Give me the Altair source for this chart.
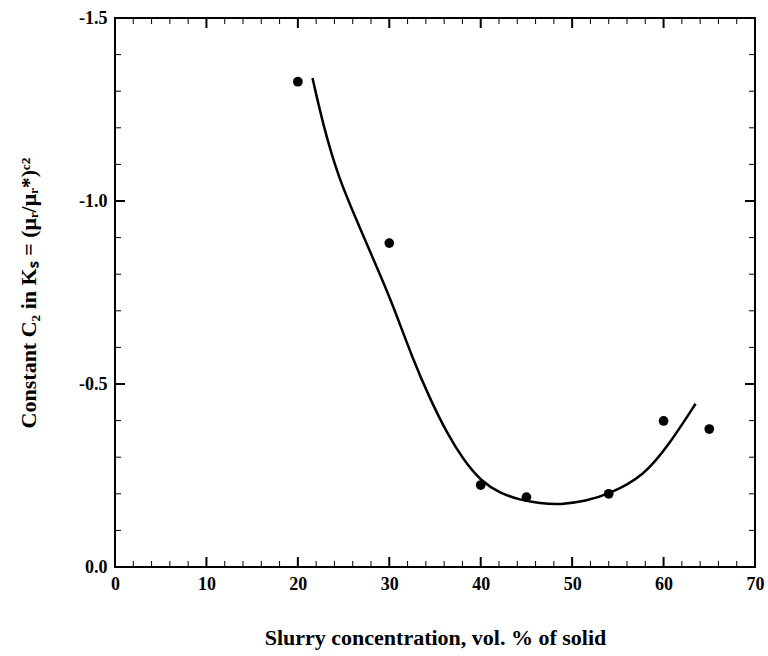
import altair as alt
import pandas as pd

# measured points
pt_x = [20, 30, 40, 45, 54, 60, 65]
pt_y = [-1.326, -0.885, -0.224, -0.191, -0.200, -0.399, -0.377]

# fitted curve
fit_x = [21.6, 22.8, 24.4, 26.4, 28.6, 30.1, 32.6, 34.5, 36.3, 38.1, 40.1, 42.1, 44.3, 46.5, 48.7, 51.5, 54.0, 57.8, 60.7, 63.5]
fit_y = [-1.336, -1.204, -1.067, -0.949, -0.821, -0.735, -0.566, -0.457, -0.366, -0.293, -0.233, -0.202, -0.183, -0.174, -0.170, -0.180, -0.199, -0.247, -0.338, -0.446]

# axis tick positions
x_labels = [0, 10, 20, 30, 40, 50, 60, 70]
x_major = [10, 20, 30, 40, 50, 60]
x_minor = [v for v in range(2, 70, 2) if v % 10 != 0]
y_labels = [-1.5, -1.0, -0.5, 0.0]
y_major = [-1.0, -0.5]
y_minor = [-1.4, -1.3, -1.2, -1.1, -0.9, -0.8, -0.7, -0.6, -0.4, -0.3, -0.2, -0.1]
X_MIN, X_MAX = 0.0, 70.0
Y_MIN, Y_MAX = -1.5, 0.0

W, H = 640, 549
MAJOR_PX, MINOR_PX = 10, 6

pts = pd.DataFrame({"x": pt_x, "y": pt_y})
fit = pd.DataFrame({"x": fit_x, "y": fit_y})

FONT = "Liberation Serif"
xscale = alt.Scale(domain=[X_MIN, X_MAX], nice=False, zero=False)
yscale = alt.Scale(domain=[Y_MIN, Y_MAX], reverse=True, nice=False, zero=False)

ylab = "datum.value < 0 ? '-' + format(-datum.value, '.1f') : format(datum.value, '.1f')"

xaxis = alt.Axis(values=x_labels, ticks=False, domain=False, grid=False,
                 labelFont=FONT, labelFontSize=18, labelFontWeight="bold",
                 labelColor="black", labelPadding=8, labelFlush=False,
                 title="Slurry concentration, vol. % of solid", titleFont=FONT,
                 titleFontSize=22, titleFontWeight="bold", titleColor="black",
                 titlePadding=34)
yaxis = alt.Axis(values=y_labels, ticks=False, domain=False, grid=False,
                 labelFont=FONT, labelFontSize=18, labelFontWeight="bold",
                 labelColor="black", labelPadding=8, labelFlush=False,
                 labelExpr=ylab,
                 title="Constant C\u2082 in K\u209b = (\u03bc\u1d63/\u03bc\u1d63*)\u1d9c\u00b2",
                 titleFont=FONT, titleFontSize=22, titleFontWeight="bold",
                 titleColor="black", titlePadding=38)


def X(field="x"):
    return alt.X(f"{field}:Q", scale=xscale, axis=xaxis)


def Y(field="y"):
    return alt.Y(f"{field}:Q", scale=yscale, axis=yaxis)


line = alt.Chart(fit).mark_line(color="black", strokeWidth=2.5, interpolate="basis").encode(
    x=X(), y=Y())

points = alt.Chart(pts).mark_circle(color="black", size=95, opacity=1).encode(
    x=X(), y=Y())

layers = [line, points]

ypp = (Y_MAX - Y_MIN) / H   # data units per pixel (y)
xpp = (X_MAX - X_MIN) / W   # data units per pixel (x)


def xticks(vals, px, width):
    # vertical tick marks centred half a tick length inside the frame
    half = px * ypp / 2
    rows = []
    for v in vals:
        rows.append({"x": v, "y": Y_MAX - half})
        rows.append({"x": v, "y": Y_MIN + half})
    return alt.Chart(pd.DataFrame(rows)).mark_tick(
        color="black", size=px, thickness=width, opacity=1).encode(x=X(), y=Y())


def yticks(vals, px, width):
    L = px * xpp
    rows = []
    for v in vals:
        rows.append({"y": v, "x": X_MIN, "x2": X_MIN + L})
        rows.append({"y": v, "x": X_MAX, "x2": X_MAX - L})
    return alt.Chart(pd.DataFrame(rows)).mark_rule(color="black", strokeWidth=width).encode(
        y=Y(), x=X(), x2="x2:Q")


layers += [xticks(x_major, MAJOR_PX, 2), xticks(x_minor, MINOR_PX, 1),
           yticks(y_major, MAJOR_PX, 2), yticks(y_minor, MINOR_PX, 1)]

chart = alt.layer(*layers).properties(
    width=W, height=H,
    autosize=alt.AutoSizeParams(type="none"),
    padding={"left": 115, "top": 18, "right": 13, "bottom": 89},
    background="white",
).configure_view(stroke="black", strokeWidth=2)

chart.save("out.html", embed_options={"renderer": "svg", "actions": False})
